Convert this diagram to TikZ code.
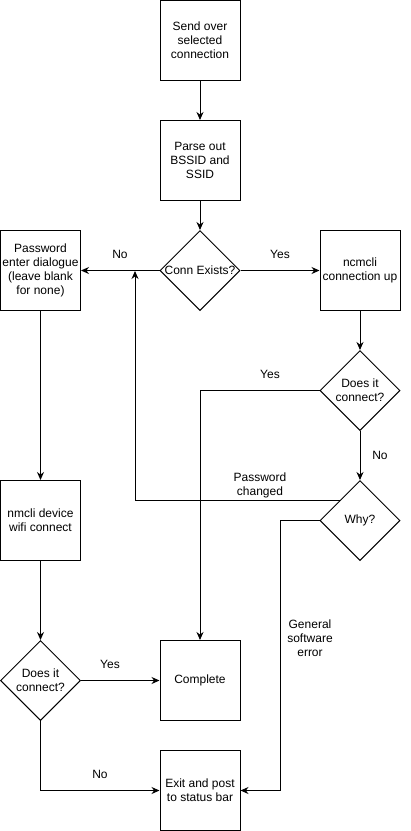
\documentclass[tikz,border=0pt]{standalone}
\usepackage{fontspec}
\setmainfont{Liberation Sans}
\usetikzlibrary{shapes.geometric,arrows.meta}
\begin{document}
\begin{tikzpicture}[x=1pt,y=-1pt,
  box/.style={draw,line width=1pt,minimum width=80pt,minimum height=80pt,inner sep=0pt,align=center,font=\fontsize{12}{14}\selectfont},
  dia/.style={draw,line width=1pt,diamond,aspect=1,minimum width=80pt,minimum height=80pt,inner sep=0pt},
  txt/.style={align=center,inner sep=0pt,font=\fontsize{12}{14}\selectfont},
  arr/.style={line width=1pt,-{Stealth[length=8pt,width=7pt]}},
  ln/.style={line width=1pt}]
\useasboundingbox (0,0) rectangle (411,831);
\node[box] (s1) at (200,40.5) {Send over\\selected\\connection};
\node[box] (s2) at (200,160.5) {Parse out\\BSSID and\\SSID};
\node[dia] (d1) at (200,270.5) {};
\node[txt] at (d1) {Conn Exists?};
\node[box] (pw) at (40.5,270.5) {Password\\enter dialogue\\(leave blank\\for none)};
\node[box] (nc) at (360,270.5) {ncmcli\\connection up};
\node[dia] (d2) at (360,390.5) {};
\node[txt] at (d2) {Does it\\connect?};
\node[dia] (why) at (360,520.5) {};
\node[txt] at (why) {Why?};
\node[box] (dev) at (40.5,520.5) {nmcli device\\wifi connect};
\node[dia] (d3) at (40.5,680.5) {};
\node[txt] at (d3) {Does it\\connect?};
\node[box] (comp) at (200,680.5) {Complete};
\node[box] (ex) at (200,790.5) {Exit and post\\to status bar};
\coordinate (pj) at (135,271);
\draw[arr] (s1) -- (s2);
\draw[arr] (s2) -- (d1);
\draw[arr] (d1.west) -- (pw.east);
\draw[arr] (d1.east) -- (nc.west);
\draw[arr] (nc.south) -- (d2.north);
\draw[arr] (d2.west) -| (comp.north);
\draw[arr] (d2.south) -- (why.north);
\draw[arr] (why.north west) -| (pj);
\draw[arr] (why.west) -- ++(-39,0) |- (ex.east);
\draw[arr] (pw.south) -- (dev.north);
\draw[arr] (dev.south) -- (d3.north);
\draw[arr] (d3.east) -- (comp.west);
\draw[arr] (d3.south) |- (ex.west);
\node[txt] (lno1) at (120,254) {No};
\node[txt] (lyes1) at (280,254) {Yes};
\node[txt] (lyes2) at (270,374) {Yes};
\node[txt] (lno2) at (380,455) {No};
\node[txt] (lpc) at (260,485) {Password\\changed};
\node[txt] (lgse) at (310,638) {General\\software\\error};
\node[txt] (lyes3) at (110,664) {Yes};
\node[txt] (lno3) at (100,774) {No};
\end{tikzpicture}
\end{document}
